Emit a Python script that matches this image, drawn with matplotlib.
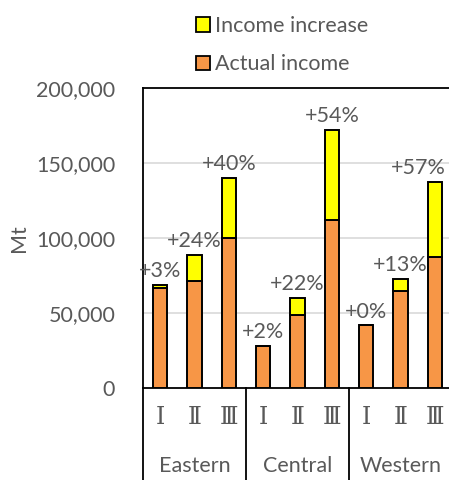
import numpy as np
import matplotlib.pyplot as plt
from matplotlib.patches import Patch
import matplotlib.transforms as mtransforms

plt.rcParams['font.family'] = ['Lato', 'Noto Sans CJK SC', 'DejaVu Sans']

regions = ['Eastern', 'Central', 'Western']
stages = ['Ⅰ', 'Ⅱ', 'Ⅲ']
actual = [66500, 71500, 100000, 27700, 49000, 111700, 41700, 64400, 87100]
total = [68500, 88900, 140000, 28300, 59800, 172000, 41700, 72900, 137300]
pct = [3, 24, 40, 2, 22, 54, 0, 13, 57]

gray = '#595959'
orange = '#F79646'
yellow = '#FFFF00'

fig = plt.figure(figsize=(4.49, 4.8), dpi=100)
ax = fig.add_axes([143 / 449, 92 / 480, 309 / 449, 300 / 480])

x = np.arange(len(actual))
increase = np.array(total) - np.array(actual)
w = 0.41
ax.bar(x, actual, w, color=orange, edgecolor='black', linewidth=1.4, label='Actual income', zorder=3)
ax.bar(x, increase, w, bottom=actual, color=yellow, edgecolor='black', linewidth=1.4,
       label='Income increase', zorder=3)

for xi, t, p in zip(x, total, pct):
    # the last label is pushed inside the chart, as the original does
    dx = -12 if xi == x[-1] else 0
    ax.annotate('+%d%%' % p, (xi, t), xytext=(dx, 10), textcoords='offset points',
                ha='center', va='center', fontsize=15.5, color=gray, annotation_clip=False)

ax.set_xlim(-0.5, 8.5)
ax.set_ylim(0, 200000)
ax.set_yticks([0, 50000, 100000, 150000, 200000])
ax.set_yticklabels(['{:,}'.format(v) for v in [0, 50000, 100000, 150000, 200000]])
ax.tick_params(axis='y', length=0, labelsize=15.5, labelcolor=gray, pad=20)
ax.set_xticks([])
for yv in [50000, 100000, 150000]:
    ax.axhline(yv, color='#d9d9d9', linewidth=1.2, zorder=1)
ax.spines['right'].set_visible(False)
for s in ['top', 'left', 'bottom']:
    ax.spines[s].set_linewidth(1.3)
ax.set_ylabel('Mt', fontsize=15.5, color=gray, labelpad=5)

# category axis below
tr = mtransforms.blended_transform_factory(ax.transData, ax.transAxes)
for xd in [-0.5, 2.5, 5.5]:
    ax.plot([xd, xd], [0, -0.31], color='black', linewidth=1.3, transform=tr, clip_on=False)
for i, xi in enumerate(x):
    ax.text(xi, -0.1, stages[i % 3], transform=tr, ha='center', va='center',
            fontsize=17, color=gray, family=['DejaVu Serif', 'Noto Sans CJK SC'])
for g, r in enumerate(regions):
    ax.text(3 * g + 1, -0.26, r, transform=tr, ha='center', va='center',
            fontsize=15.5, color=gray)

handles = [Patch(facecolor=yellow, edgecolor='black', linewidth=1.3),
           Patch(facecolor=orange, edgecolor='black', linewidth=1.3)]
fig.legend(handles, ['Income increase', 'Actual income'], loc='upper left',
           bbox_to_anchor=(181 / 449, 1 - 1 / 480), frameon=False, fontsize=15.5,
           labelcolor=gray, handlelength=0.65, handleheight=0.65, handletextpad=0.25,
           labelspacing=0.85, borderpad=0.2)

fig.savefig('out.png', dpi=100)
